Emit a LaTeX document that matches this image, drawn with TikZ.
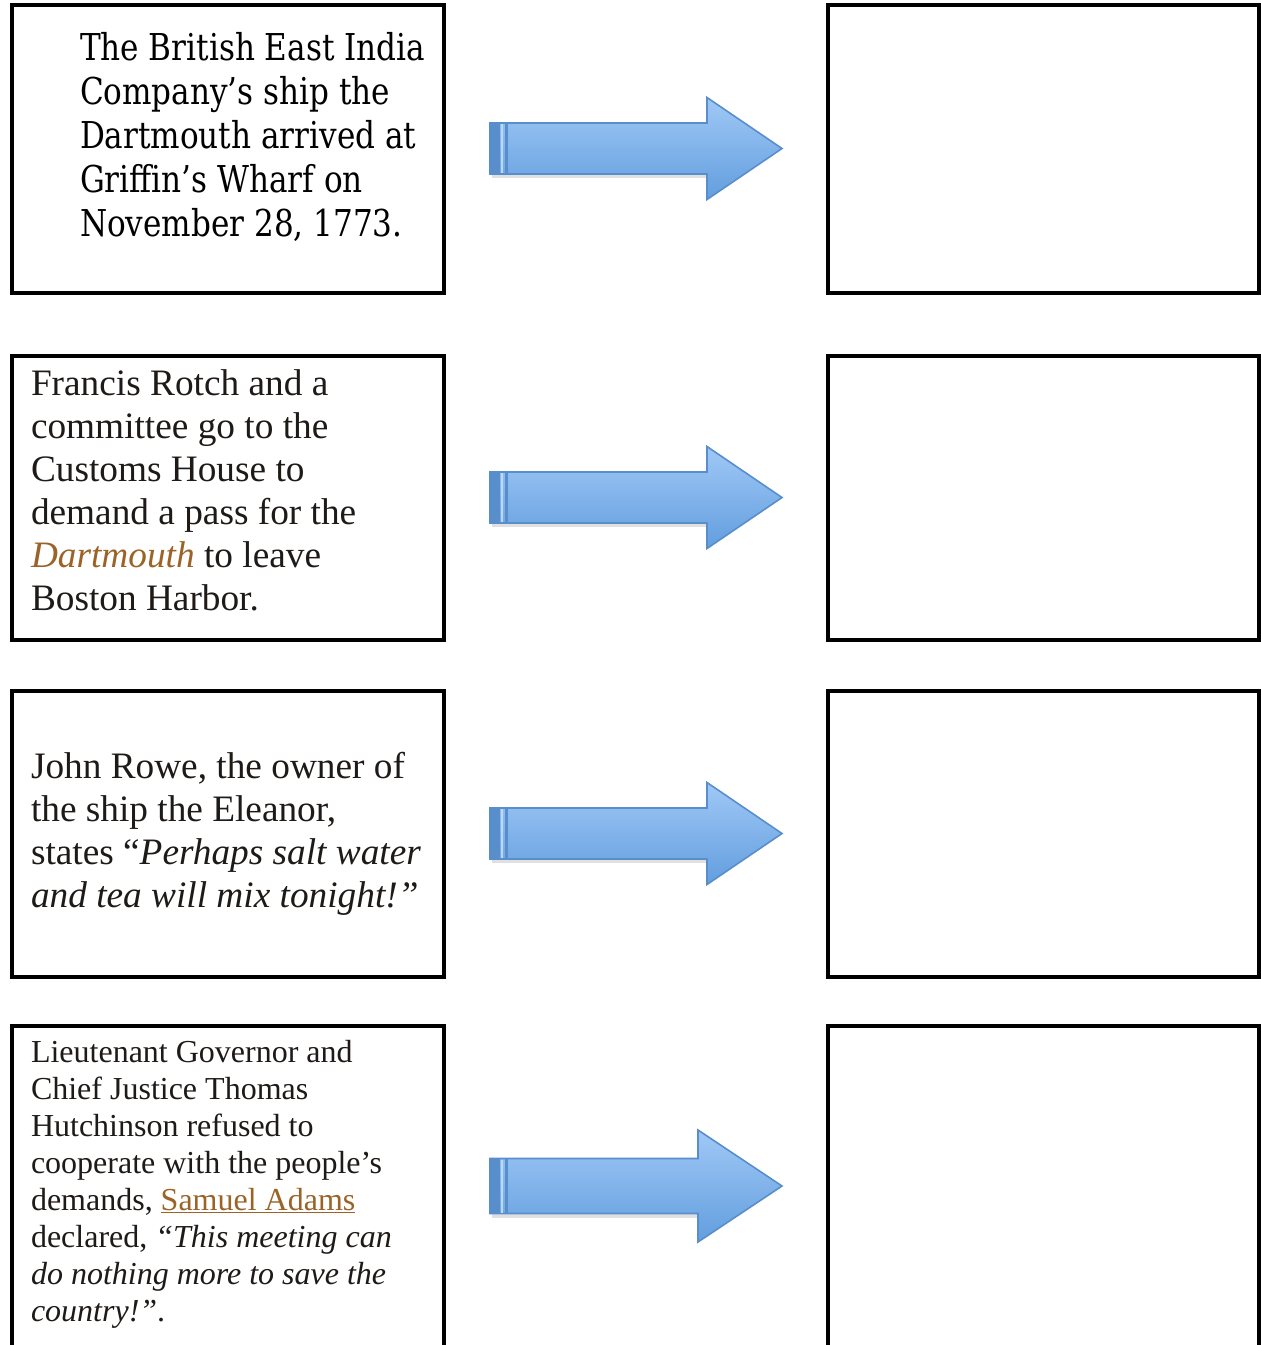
\documentclass[tikz,border=0pt]{standalone}
\usepackage{fontspec}
\setmainfont{Liberation Serif}
\newfontfamily\boxonefont[FakeStretch=0.84]{DejaVu Serif}
\usetikzlibrary{backgrounds}
\definecolor{arrowtop}{RGB}{160,200,246}
\definecolor{arrowbot}{RGB}{98,158,222}
\definecolor{arrowedge}{RGB}{88,142,203}
\definecolor{linkbrown}{RGB}{155,99,39}
\definecolor{textdark}{RGB}{30,26,23}
\definecolor{shadowgray}{RGB}{200,200,200}
\tikzset{
  x=1pt, y=-1pt,
  evbox/.style={draw=black, line width=4pt, fill=white, anchor=north west, inner sep=0pt, outer sep=0pt},
  shadowrect/.style={fill=shadowgray},
  arrowbody/.style={draw=arrowedge, line width=1.6pt, line join=miter, top color=arrowtop, bottom color=arrowbot},
  txt/.style={anchor=base west, inner sep=0pt, outer sep=0pt},
}
\newcommand{\evshadow}[1]{%
  \fill[shadowrect] ([xshift=-2pt,yshift=-6pt]#1.north west) rectangle ([xshift=2pt,yshift=-6pt]#1.south east);%
}
% #1 = anchor coordinate name, #2 shaft half height, #3 head half height, #4 head base offset, #5 apex offset
\newcommand{\bluearrow}[5]{%
  \begin{scope}[shift={(#1)}]
    \fill[black!12] (2,-#2+4) -- (#4+2,-#2+4) -- (#4+2,#2+4) -- (2,#2+4) -- cycle;
    \path[arrowbody] (0,-#2) -- (#4,-#2) -- (#4,-#3) -- (#5,0) -- (#4,#3) -- (#4,#2) -- (0,#2) -- cycle;
    \fill[arrowedge] (0,-#2) rectangle (10,#2);
    \fill[arrowtop!70!white] (10.6,-#2+1) rectangle (12.6,#2-1);
    \fill[arrowedge] (14.5,-#2+0.8) rectangle (18,#2-0.8);
  \end{scope}%
}
\begin{document}
\begin{tikzpicture}
\useasboundingbox (0,0) rectangle (1261,1345);
\clip (0,0) rectangle (1261,1345);
\fill[white] (0,0) rectangle (1261,1345);

% boxes
\node[evbox, minimum width=431.5pt, minimum height=287.2pt] (L1) at (12,5.3) {};
\node[evbox, minimum width=431pt, minimum height=287.7pt] (R1) at (827.5,5.3) {};
\node[evbox, minimum width=431.5pt, minimum height=284.5pt] (L2) at (12,355.5) {};
\node[evbox, minimum width=431pt, minimum height=284.5pt] (R2) at (827.5,355.5) {};
\node[evbox, minimum width=431.5pt, minimum height=286.3pt] (L3) at (12,690.7) {};
\node[evbox, minimum width=431pt, minimum height=286.3pt] (R3) at (827.5,690.7) {};
\node[evbox, minimum width=431.5pt, minimum height=380pt] (L4) at (12,1025.5) {};
\node[evbox, minimum width=431pt, minimum height=380pt] (R4) at (827.5,1025.5) {};

\begin{scope}[on background layer]
  \evshadow{L1}\evshadow{R1}\evshadow{L2}\evshadow{R2}
  \evshadow{L3}\evshadow{R3}\evshadow{L4}\evshadow{R4}
\end{scope}

% arrows
\coordinate (A1) at (490,148.5);
\coordinate (A2) at (490,497.5);
\coordinate (A3) at (490,833.5);
\coordinate (A4) at (490,1186);
\bluearrow{A1}{25.5}{51}{217}{292}
\bluearrow{A2}{25.5}{51}{217}{292}
\bluearrow{A3}{25.5}{51}{217}{292}
\bluearrow{A4}{27.5}{56}{208}{292}

% texts
\node[txt] (T1) at (80,60) {\parbox[t]{360pt}{\boxonefont\fontsize{37}{44}\selectfont
The British East India\\
Company’s ship the\\
Dartmouth arrived at\\
Griffin’s Wharf on\\
November 28, 1773.}};

\node[txt, text=textdark] (T2) at (31,395) {\parbox[t]{410pt}{\fontsize{37.3}{43}\selectfont
Francis Rotch and a\\
committee go to the\\
Customs House to\\
demand a pass for the\\
\textcolor{linkbrown}{\textit{Dartmouth}} to leave\\
Boston Harbor.}};

\node[txt, text=textdark] (T3) at (31,778) {\parbox[t]{410pt}{\fontsize{37.3}{43}\selectfont
John Rowe, the owner of\\
the ship the Eleanor,\\
states “\textit{Perhaps salt water}\\
\textit{and tea will mix tonight!”}}};

\node[txt, text=textdark] (T4) at (31,1062) {\parbox[t]{410pt}{\fontsize{32}{37}\selectfont
Lieutenant Governor and\\
Chief Justice Thomas\\
Hutchinson refused to\\
cooperate with the people’s\\
demands, \textcolor{linkbrown}{\underline{Samuel Adams}}\\
declared, \textit{“This meeting can}\\
\textit{do nothing more to save the}\\
\textit{country!”}.}};
\end{tikzpicture}
\end{document}
